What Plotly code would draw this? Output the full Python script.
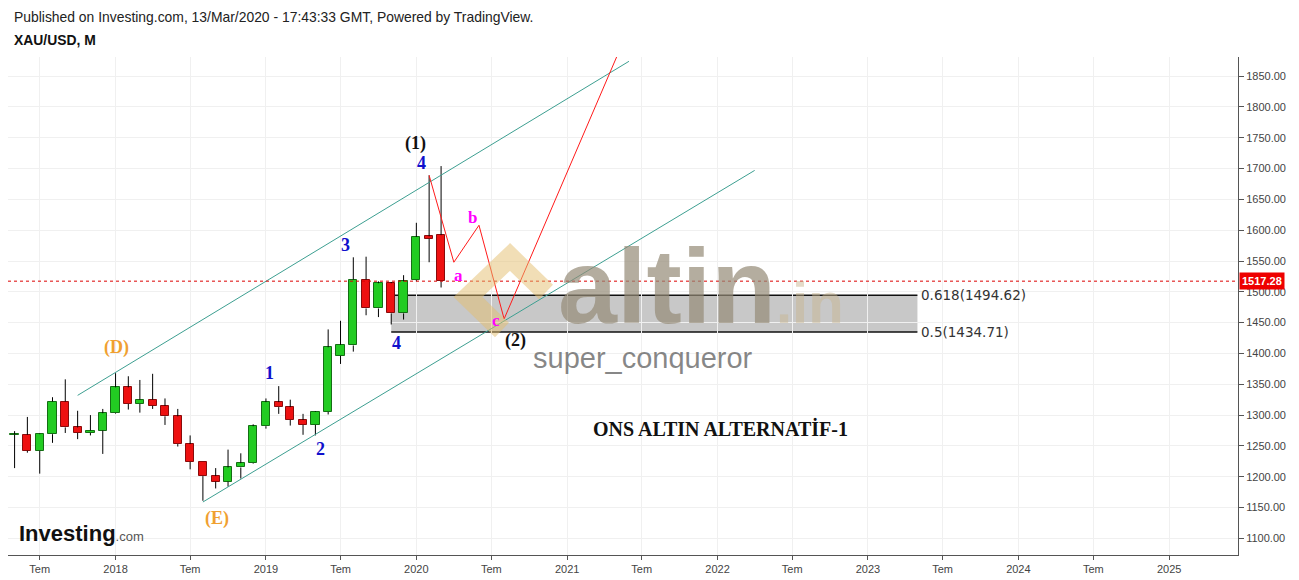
import plotly.graph_objects as go
import pandas as pd

# ---------------- data ----------------
months = ["2017-05", "2017-06", "2017-07", "2017-08", "2017-09", "2017-10", "2017-11", "2017-12",
          "2018-01", "2018-02", "2018-03", "2018-04", "2018-05", "2018-06", "2018-07", "2018-08",
          "2018-09", "2018-10", "2018-11", "2018-12",
          "2019-01", "2019-02", "2019-03", "2019-04", "2019-05", "2019-06", "2019-07", "2019-08",
          "2019-09", "2019-10", "2019-11", "2019-12",
          "2020-01", "2020-02", "2020-03"]
opens = [1268, 1268, 1242, 1269, 1322, 1280, 1271, 1275,
         1303, 1345, 1318, 1325, 1315, 1298, 1253, 1224,
         1201, 1192, 1215, 1222,
         1282, 1321, 1313, 1292, 1284, 1305, 1396, 1413,
         1520, 1473, 1514, 1465,
         1519, 1590, 1592]
highs = [1274, 1297, 1270, 1329, 1358, 1307, 1300, 1310,
         1368, 1363, 1357, 1367, 1327, 1310, 1267, 1224,
         1214, 1244, 1238, 1285,
         1327, 1347, 1325, 1302, 1306, 1439, 1453, 1556,
         1557, 1517, 1516, 1527,
         1612, 1689, 1704]
lows = [1214, 1239, 1205, 1255, 1271, 1261, 1267, 1237,
        1302, 1309, 1304, 1310, 1284, 1249, 1212, 1161,
        1181, 1184, 1197, 1221,
        1278, 1302, 1283, 1268, 1267, 1301, 1383, 1403,
        1462, 1459, 1447, 1455,
        1517, 1548, 1507]
closes = [1268.6, 1242, 1269, 1322, 1280, 1271, 1275, 1303,
          1345, 1318, 1325, 1315, 1298, 1253, 1224, 1201,
          1192, 1215, 1222, 1282,
          1321, 1313, 1292, 1284, 1305, 1410, 1414, 1520,
          1473, 1514, 1465, 1517,
          1589, 1586, 1517.28]
last_price = 1517.28

x_tick_dates = ["2017-07-01", "2018-01-01", "2018-07-01", "2019-01-01", "2019-07-01", "2020-01-01",
                "2020-07-01", "2021-01-01", "2021-07-01", "2022-01-01", "2022-07-01", "2023-01-01",
                "2023-07-01", "2024-01-01", "2024-07-01", "2025-01-01"]
x_tick_text = ["Tem", "2018", "Tem", "2019", "Tem", "2020", "Tem", "2021", "Tem", "2022",
               "Tem", "2023", "Tem", "2024", "Tem", "2025"]
y_ticks = [1100, 1150, 1200, 1250, 1300, 1350, 1400, 1450, 1500, 1550, 1600, 1650, 1700, 1750, 1800, 1850]

channel_upper_dates = ["2017-10-01", "2021-05-31"]
channel_upper_prices = [1332, 1874]
channel_lower_dates = ["2018-08-01", "2022-04-01"]
channel_lower_prices = [1159, 1697]

wave_dates = ["2020-02-01", "2020-04-01", "2020-06-01", "2020-08-01", "2021-05-01"]
wave_prices = [1689, 1548, 1608, 1456, 1881]

fib_start, fib_end = "2019-11-01", "2023-05-01"
fib_levels = [1494.62, 1434.71]
fib_labels = ["0.618(1494.62)", "0.5(1434.71)"]

wave_labels = [  # text, date, price, kind
    ("(1)", "2019-12-29", 1741, "major"),
    ("4", "2020-01-13", 1709, "minor"),
    ("3", "2019-07-12", 1576, "minor"),
    ("1", "2019-01-10", 1368, "minor"),
    ("2", "2019-05-13", 1245, "minor"),
    ("4", "2019-11-13", 1417, "minor"),
    ("(2)", "2020-08-29", 1421, "major"),
    ("(D)", "2018-01-03", 1409, "orange"),
    ("(E)", "2018-09-03", 1133, "orange"),
    ("a", "2020-04-13", 1527, "abc"),
    ("b", "2020-05-17", 1621, "abc"),
    ("c", "2020-07-12", 1454, "abc"),
]
title_note = ("ONS ALTIN ALTERNATİF-1", "2022-01-09", 1279)

# ---------------- build ----------------
dates = pd.to_datetime([m + "-01" for m in months])
DAY = 86400000
body_w = 20 * DAY

up = [i for i in range(len(months)) if closes[i] >= opens[i]]
dn = [i for i in range(len(months)) if closes[i] < opens[i]]

fig = go.Figure()

# wicks (two segments each so they don't cross the body)
wx, wy = [], []
for i in range(len(months)):
    top = max(opens[i], closes[i])
    bot = min(opens[i], closes[i])
    wx += [dates[i], dates[i], None, dates[i], dates[i], None]
    wy += [lows[i], bot, None, top, highs[i], None]
fig.add_trace(go.Scatter(x=wx, y=wy, mode="lines", line=dict(color="#000000", width=1),
                         hoverinfo="skip", showlegend=False))


def bodies(idx, fill, edge):
    return go.Bar(
        x=[dates[i] for i in idx],
        y=[max(abs(closes[i] - opens[i]), 1.2) for i in idx],
        base=[min(opens[i], closes[i]) for i in idx],
        width=body_w,
        marker=dict(color=fill, line=dict(color=edge, width=1)),
        hoverinfo="skip", showlegend=False)


fig.add_trace(bodies(up, "#22cc22", "#146e14"))
fig.add_trace(bodies(dn, "#ee1111", "#8a0b0b"))

# channel lines
for dx, py in [(channel_upper_dates, channel_upper_prices), (channel_lower_dates, channel_lower_prices)]:
    fig.add_trace(go.Scatter(x=dx, y=py, mode="lines", line=dict(color="#3d9f91", width=1),
                             hoverinfo="skip", showlegend=False))

# wave projection
fig.add_trace(go.Scatter(x=wave_dates, y=wave_prices, mode="lines", line=dict(color="#ff1a1a", width=1),
                         hoverinfo="skip", showlegend=False))

shapes = []
shapes.append(dict(type="rect", xref="x", yref="y", x0=fib_start, x1=fib_end,
                   y0=fib_levels[1], y1=fib_levels[0], fillcolor="rgba(150,150,150,0.52)",
                   line=dict(width=0), layer="below"))
for lv in fib_levels:
    shapes.append(dict(type="line", xref="x", yref="y", x0=fib_start, x1=fib_end, y0=lv, y1=lv,
                       line=dict(color="#111111", width=1.5), layer="below"))
shapes.append(dict(type="line", xref="paper", yref="y", x0=0, x1=1, y0=last_price, y1=last_price,
                   line=dict(color="#dd0000", width=1, dash="dot"), layer="above"))

# page body has an 8px margin: figure is drawn 8px lower/right than the screenshot origin
OFF = 8
FIG_W, FIG_H = 1299 - OFF, 580 - OFF
# plot-area edges in screenshot pixels
L, R, T, B = 8, 1238, 57, 555


def pp(px, py):
    return (px - L) / (R - L), (B - py) / (B - T)


pts = [pp(546, 292), pp(510, 257), pp(468, 297), pp(502, 330)]
path = "M " + " L ".join(f"{a:.4f},{b:.4f}" for a, b in pts)
shapes.append(dict(type="path", xref="paper", yref="paper", path=path,
                   line=dict(color="rgba(228,190,110,0.5)", width=20), layer="above"))

annotations = []
ax, ay = pp(556, 286)
annotations.append(dict(xref="paper", yref="paper", x=ax, y=ay, xanchor="left", yanchor="middle",
                        showarrow=False,
                        text="<b>altin<span style='font-size:58px;color:rgba(200,182,145,0.7)'>.in</span></b>",
                        font=dict(family="Liberation Sans", size=106, color="rgba(148,138,118,0.7)")))
ax, ay = pp(531, 358)
annotations.append(dict(xref="paper", yref="paper", x=ax, y=ay, xanchor="left", yanchor="middle",
                        showarrow=False, text="super_conqueror",
                        font=dict(family="Liberation Sans", size=29, color="rgba(95,95,95,0.75)")))

ax, ay = pp(12, 17)
annotations.append(dict(xref="paper", yref="paper", x=ax, y=ay, xanchor="left", yanchor="middle",
                        showarrow=False,
                        text="Published on Investing.com, 13/Mar/2020 - 17:43:33 GMT, Powered by TradingView.",
                        font=dict(family="Liberation Sans", size=13.9, color="#222222")))
ax, ay = pp(12, 40)
annotations.append(dict(xref="paper", yref="paper", x=ax, y=ay, xanchor="left", yanchor="middle",
                        showarrow=False, text="<b>XAU/USD, M</b>",
                        font=dict(family="Liberation Sans", size=13.9, color="#111111")))
ax, ay = pp(17, 533)
annotations.append(dict(xref="paper", yref="paper", x=ax, y=ay, xanchor="left", yanchor="middle",
                        showarrow=False,
                        text="<b>Investing</b><span style='font-size:13px;color:#555555'>.com</span>",
                        font=dict(family="Liberation Sans", size=22, color="#111111")))

for lv, lab in zip(fib_levels, fib_labels):
    annotations.append(dict(xref="x", yref="y", x=fib_end, y=lv, xanchor="left", yanchor="middle",
                            xshift=2, showarrow=False, text=lab,
                            font=dict(family="DejaVu Sans", size=13.5, color="#333333")))

styles = {
    "major": dict(color="#111111", size=18),
    "minor": dict(color="#1010cc", size=18),
    "orange": dict(color="#f0a030", size=18),
    "abc": dict(color="#ff00ff", size=17),
}
for txt, d, p, kind in wave_labels:
    st = styles[kind]
    annotations.append(dict(xref="x", yref="y", x=d, y=p, showarrow=False, text=f"<b>{txt}</b>",
                            font=dict(family="Liberation Serif", size=st["size"], color=st["color"])))
annotations.append(dict(xref="x", yref="y", x=title_note[1], y=title_note[2], showarrow=False,
                        text=f"<b>{title_note[0]}</b>",
                        font=dict(family="Liberation Serif", size=20, color="#111111")))

annotations.append(dict(xref="paper", yref="y", x=1, y=last_price, xanchor="left", yanchor="middle",
                        xshift=1, showarrow=False, text=f"<b>{last_price:.2f}</b>",
                        bgcolor="#ee0000", borderpad=2,
                        font=dict(family="Liberation Sans", size=11, color="#ffffff")))

fig.update_layout(
    width=FIG_W, height=FIG_H,
    margin=dict(l=L - OFF, r=1299 - R, t=T - OFF, b=580 - B),
    paper_bgcolor="#ffffff", plot_bgcolor="#ffffff",
    barmode="overlay", bargap=0,
    hovermode=False, showlegend=False,
    shapes=shapes, annotations=annotations,
    xaxis=dict(type="date", range=["2017-04-15", "2025-06-17"],
               tickmode="array", tickvals=x_tick_dates, ticktext=x_tick_text,
               showgrid=True, gridcolor="#f0f0f0", gridwidth=1,
               showline=True, linecolor="#555555", linewidth=1,
               ticks="outside", ticklen=4, tickcolor="#555555",
               tickfont=dict(family="Liberation Sans", size=11, color="#444444"),
               zeroline=False, rangeslider=dict(visible=False), fixedrange=True),
    yaxis=dict(side="right", range=[1073, 1881],
               tickmode="array", tickvals=y_ticks, tickformat=".2f",
               showgrid=True, gridcolor="#f0f0f0", gridwidth=1,
               showline=True, linecolor="#555555", linewidth=1,
               ticks="outside", ticklen=5, tickcolor="#555555",
               tickfont=dict(family="Liberation Sans", size=11, color="#444444"),
               zeroline=False, fixedrange=True),
)

fig.write_html("out.html")
